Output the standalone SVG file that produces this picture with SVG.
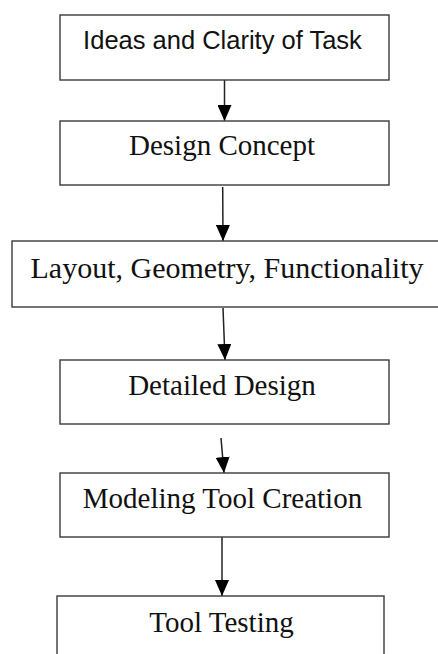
<svg xmlns="http://www.w3.org/2000/svg" width="438" height="654" viewBox="0 0 438 654">
<style>
.box{fill:#fff;stroke:#3a3a3a;stroke-width:1.4}
.t{font-family:"Liberation Serif","Times New Roman",serif;font-size:29px;fill:#111;text-anchor:middle}
.s{font-family:"Liberation Sans",Arial,sans-serif;font-size:25.5px;fill:#111;text-anchor:middle}
.c{stroke:#222;stroke-width:1.5;fill:none;marker-end:url(#ah)}
</style>
<defs>
<marker id="ah" viewBox="0 0 16 14" refX="16" refY="7" markerWidth="16" markerHeight="14" markerUnits="userSpaceOnUse" orient="auto">
<path d="M0,0 L16,7 L0,14 z" fill="#000"/>
</marker>
</defs>
<rect width="438" height="654" fill="#fff"/>
<g id="connectors">
<path class="c" d="M224.5,80 L224.5,121"/>
<path class="c" d="M222.7,187 L223,241"/>
<path class="c" d="M223,308 L225,360"/>
<path class="c" d="M221,438 L224,473"/>
<path class="c" d="M222,537 L222,596"/>
</g>
<g id="n1"><rect class="box" x="60" y="15" width="329" height="65"/><text class="s" x="222.5" y="48.5">Ideas and Clarity of Task</text></g>
<g id="n2"><rect class="box" x="60" y="121" width="329" height="64"/><text class="t" x="222" y="155">Design Concept</text></g>
<g id="n3"><rect class="box" x="12" y="241" width="440" height="66"/><text class="t" x="227" y="278" style="font-size:30px">Layout, Geometry, Functionality</text></g>
<g id="n4"><rect class="box" x="60" y="360" width="329" height="64"/><text class="t" x="222" y="395">Detailed Design</text></g>
<g id="n5"><rect class="box" x="60" y="473" width="329" height="64"/><text class="t" x="222.5" y="508">Modeling Tool Creation</text></g>
<g id="n6"><rect class="box" x="57" y="596" width="327" height="70"/><text class="t" x="221.5" y="632">Tool Testing</text></g>
</svg>
